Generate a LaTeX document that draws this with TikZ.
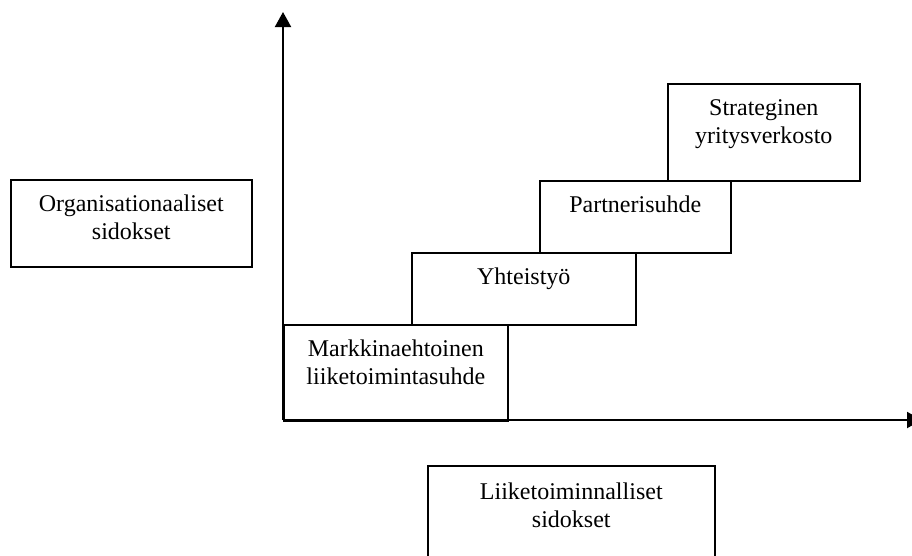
\documentclass[tikz,border=0pt]{standalone}
\usepackage{fontspec}
\setmainfont{Liberation Serif}
\usetikzlibrary{arrows.meta}
\tikzset{
  stepbox/.style={draw=black, line width=1.6pt, fill=white, inner sep=0pt, anchor=north west},
  boxtext/.style={anchor=north, inner sep=0pt, align=center,
    font=\fontsize{24}{28}\selectfont},
  axis/.style={line width=2pt, -{Triangle[width=16pt,length=15pt]}}
}
\begin{document}
\begin{tikzpicture}[x=1pt, y=-1pt]
  \useasboundingbox (0,0) rectangle (912,555);
  \clip (0,0) rectangle (912,555);

  % staircase of relationship levels
  \node[stepbox, minimum width=224pt, minimum height=96pt] (markkina) at (283,324) {};
  \node[boxtext] at ([yshift=-12.4pt]markkina.north) {\strut Markkinaehtoinen\\liiketoimintasuhde};

  \node[stepbox, minimum width=224pt, minimum height=72pt] (yhteis) at (411,252) {};
  \node[boxtext] at ([yshift=-12.4pt]yhteis.north) {\strut Yhteistyö};

  \node[stepbox, minimum width=191pt, minimum height=72pt] (partneri) at (539,180) {};
  \node[boxtext] at ([yshift=-12.4pt]partneri.north) {\strut Partnerisuhde};

  \node[stepbox, minimum width=192pt, minimum height=97pt] (strateg) at (667,83) {};
  \node[boxtext] at ([yshift=-12.4pt]strateg.north) {\strut Strateginen\\yritysverkosto};

  % axis captions
  \node[stepbox, minimum width=241pt, minimum height=87pt] (org) at (10,179) {};
  \node[boxtext] at ([yshift=-12.4pt]org.north) {\strut Organisationaaliset\\sidokset};

  \node[stepbox, minimum width=287pt, minimum height=100pt] (liike) at (427,465) {};
  \node[boxtext] at ([yshift=-14.4pt]liike.north) {\strut Liiketoiminnalliset\\sidokset};

  % axes, drawn over the first step
  \coordinate (origin) at (283,420);
  \coordinate (ytip) at (283,12);
  \coordinate (xtip) at (922,420);
  \draw[axis] (origin) -- (ytip);
  \draw[axis] (origin) -- (xtip);
\end{tikzpicture}
\end{document}
